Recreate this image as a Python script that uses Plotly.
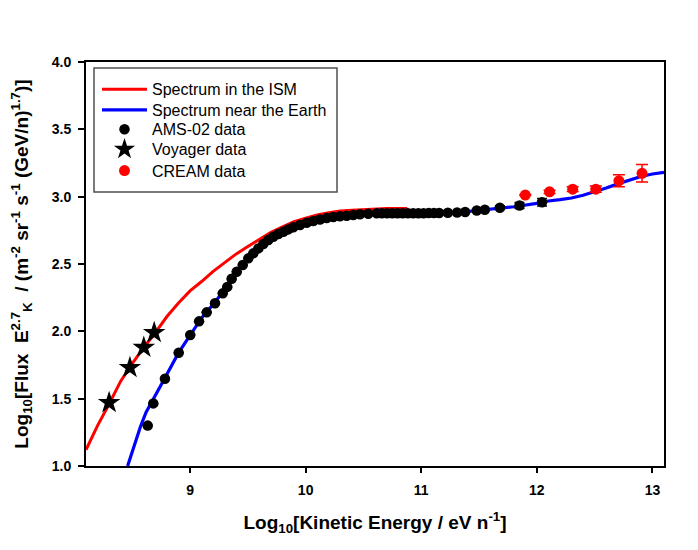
import plotly.graph_objects as go

# Spectrum in the ISM (red line)
ism_x = [8.10, 8.20, 8.30, 8.40, 8.50, 8.60, 8.70, 8.80, 8.90, 9.00, 9.10, 9.20, 9.30, 9.40,
         9.50, 9.60, 9.70, 9.80, 9.90, 10.00, 10.10, 10.20, 10.30, 10.40, 10.50, 10.60,
         10.70, 10.80, 10.88]
ism_y = [1.12, 1.30, 1.46, 1.63, 1.76, 1.88, 1.99, 2.11, 2.21, 2.30, 2.37, 2.445, 2.51, 2.575,
         2.63, 2.685, 2.735, 2.775, 2.815, 2.84, 2.865, 2.88, 2.893, 2.90, 2.905, 2.91,
         2.912, 2.913, 2.913]

# Spectrum near the Earth (blue line)
earth_x = [8.46, 8.52, 8.57, 8.62, 8.68, 8.78, 8.90, 9.00, 9.10, 9.20, 9.30, 9.40, 9.50, 9.60,
           9.70, 9.80, 9.90, 10.00, 10.10, 10.20, 10.30, 10.40, 10.50, 10.60, 10.80, 11.00,
           11.20, 11.40, 11.60, 11.80, 12.00, 12.10, 12.20, 12.30, 12.40, 12.50, 12.60,
           12.70, 12.80, 12.90, 13.00, 13.10]
earth_y = [1.00, 1.16, 1.29, 1.40, 1.49, 1.65, 1.84, 1.97, 2.10, 2.20, 2.31, 2.44, 2.54, 2.625,
           2.69, 2.735, 2.775, 2.805, 2.827, 2.843, 2.855, 2.863, 2.870, 2.875, 2.877, 2.878,
           2.880, 2.890, 2.905, 2.925, 2.950, 2.968, 2.978, 2.990, 3.010, 3.035, 3.065,
           3.095, 3.125, 3.150, 3.168, 3.180]

# AMS-02 data
ams_x = [8.634, 8.682, 8.783, 8.902, 9.002, 9.078, 9.144, 9.216, 9.283, 9.322,
         9.36, 9.404, 9.456, 9.504, 9.547, 9.591, 9.634, 9.677, 9.720, 9.764, 9.807,
         9.850, 9.893, 9.951, 10.009, 10.066, 10.124, 10.182, 10.239, 10.297, 10.355,
         10.412, 10.470, 10.542, 10.615, 10.66, 10.705, 10.75, 10.795, 10.84, 10.885,
         10.93, 10.975, 11.02, 11.065, 11.11, 11.155, 11.23, 11.31, 11.38, 11.48,
         11.55, 11.68, 11.85, 12.045]
ams_y = [1.30, 1.465, 1.648, 1.841, 1.973, 2.074, 2.141, 2.208, 2.282, 2.33,
         2.39, 2.442, 2.492, 2.542, 2.579, 2.616, 2.648, 2.678, 2.702, 2.722, 2.739,
         2.757, 2.772, 2.789, 2.806, 2.819, 2.831, 2.841, 2.849, 2.854, 2.858,
         2.863, 2.869, 2.873, 2.876, 2.877, 2.877, 2.877, 2.877, 2.877, 2.877,
         2.877, 2.877, 2.877, 2.878, 2.878, 2.879, 2.880, 2.882, 2.886, 2.897,
         2.903, 2.918, 2.934, 2.958]
ams_err = [0] * 51 + [0.008, 0.014, 0.022, 0.028]

# Voyager data
voy_x = [8.30, 8.48, 8.60, 8.69]
voy_y = [1.47, 1.73, 1.88, 1.99]

# CREAM data
cream_x = [11.90, 12.11, 12.31, 12.51, 12.71, 12.91]
cream_y = [3.012, 3.036, 3.056, 3.056, 3.118, 3.173]
cream_err = [0.004, 0.012, 0.018, 0.024, 0.045, 0.065]

FONT = "Arial, Liberation Sans, sans-serif"

# plot area in pixels (left, top, width, height) -> helpers for paper coords
L, T, W, H = 78, 54, 578, 404


def px(x):
    return (x - 86) / W


def py(y):
    return (466 - y) / H


fig = go.Figure()
fig.add_trace(go.Scatter(x=ism_x, y=ism_y, mode="lines", name="Spectrum in the ISM",
                         line=dict(color="#ff0000", width=3), legend="legend"))
fig.add_trace(go.Scatter(x=earth_x, y=earth_y, mode="lines", name="Spectrum near the Earth",
                         line=dict(color="#0000ff", width=3.2), legend="legend2"))
fig.add_trace(go.Scatter(x=ams_x, y=ams_y, mode="markers", name="AMS-02 data",
                         marker=dict(color="black", size=10.5), legend="legend3",
                         error_y=dict(type="data", array=ams_err, color="black",
                                      thickness=1.5, width=5)))
fig.add_trace(go.Scatter(x=voy_x, y=voy_y, mode="markers", name="Voyager data",
                         marker=dict(color="black", size=17, symbol="star"), legend="legend4"))
fig.add_trace(go.Scatter(x=cream_x, y=cream_y, mode="markers", name="CREAM data",
                         marker=dict(color="#ff0000", size=11), legend="legend5",
                         error_y=dict(type="data", array=cream_err, color="#ff0000",
                                      thickness=1.5, width=6)))

# legend frame
fig.add_shape(type="rect", xref="paper", yref="paper",
              x0=px(94), x1=px(337), y0=py(192), y1=py(68),
              line=dict(color="#505050", width=1.5), fillcolor="white", layer="below")

row_y = [89.3, 110, 129.3, 149.3, 170.7]
legends = {}
for i, ry in enumerate(row_y):
    key = "legend" if i == 0 else f"legend{i + 1}"
    legends[key] = dict(x=px(97), y=py(ry), xanchor="left", yanchor="middle",
                        bgcolor="rgba(0,0,0,0)", borderwidth=0, itemwidth=45,
                        font=dict(size=16, family=FONT, color="black"))

fig.update_layout(
    width=698, height=550,
    margin=dict(l=L, r=698 - L - W, t=T, b=550 - T - H),
    plot_bgcolor="white", paper_bgcolor="white",
    font=dict(family=FONT, color="black"),
    showlegend=True,
    xaxis=dict(range=[8.1, 13.1], tickvals=[9, 10, 11, 12, 13], showgrid=False,
               zeroline=False, showline=True, linecolor="black", linewidth=2, mirror=True,
               ticks="outside", ticklen=5, tickwidth=1.5, tickcolor="black",
               ticklabelstandoff=5,
               tickfont=dict(size=14, family=FONT, weight="bold"),
               title=dict(text="Log<sub>10</sub>[Kinetic Energy / eV n<sup>-1</sup>]",
                          font=dict(size=19, family=FONT, weight="bold"), standoff=19)),
    yaxis=dict(range=[1.0, 4.0], tickvals=[1.0, 1.5, 2.0, 2.5, 3.0, 3.5, 4.0],
               tickformat=".1f", showgrid=False, zeroline=False, showline=True,
               linecolor="black", linewidth=2, mirror=True,
               ticks="outside", ticklen=6, tickwidth=1.5, tickcolor="black",
               ticklabelstandoff=4,
               tickfont=dict(size=14, family=FONT, weight="bold"),
               title=dict(text="Log<sub>10</sub>[Flux  E<sup>2.7</sup><sub>K</sub>  / (m<sup>-2</sup> sr<sup>-1</sup> s<sup>-1</sup> (GeV/n)<sup>1.7</sup>)]",
                          font=dict(size=19, family=FONT, weight="bold"), standoff=19)),
    **legends,
)

fig.write_html("out.html")
